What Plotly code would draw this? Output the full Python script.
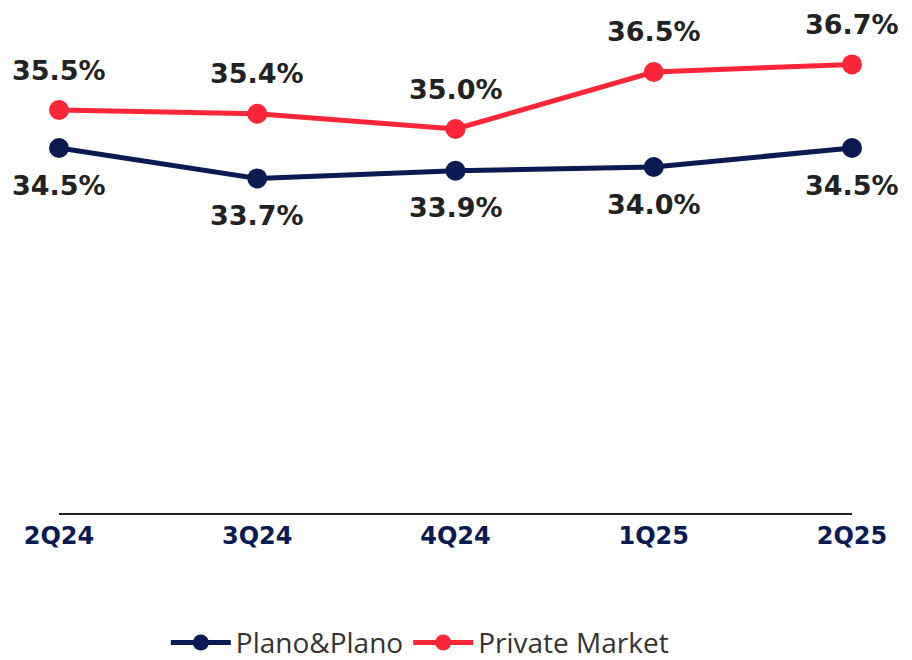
import plotly.graph_objects as go

quarters = ["2Q24", "3Q24", "4Q24", "1Q25", "2Q25"]
plano = [34.5, 33.7, 33.9, 34.0, 34.5]
private = [35.5, 35.4, 35.0, 36.5, 36.7]

NAVY = "#0B1A52"
RED = "#FF2638"
TXT = "#222222"

fig = go.Figure()
fig.add_trace(go.Scatter(
    x=quarters, y=plano, name="Plano&Plano", mode="lines+markers",
    line=dict(color=NAVY, width=5), marker=dict(color=NAVY, size=20),
    cliponaxis=False,
))
fig.add_trace(go.Scatter(
    x=quarters, y=private, name="Private Market", mode="lines+markers",
    line=dict(color=RED, width=5), marker=dict(color=RED, size=20),
    cliponaxis=False,
))

lab_font = dict(family="DejaVu Sans", size=27, color=TXT, weight="bold")
for q, v in zip(quarters, private):
    fig.add_annotation(x=q, y=v, text=f"{v:.1f}%", showarrow=False,
                       yshift=40, yanchor="middle", font=lab_font)
for q, v in zip(quarters, plano):
    fig.add_annotation(x=q, y=v, text=f"{v:.1f}%", showarrow=False,
                       yshift=-37, yanchor="middle", font=lab_font)

fig.update_layout(
    width=912, height=660,
    margin=dict(l=51, r=68, t=0, b=155),
    paper_bgcolor="white", plot_bgcolor="white",
    showlegend=True,
    legend=dict(orientation="h", x=0.455, xanchor="center", y=-0.257, yanchor="middle",
                font=dict(family="Open Sans", size=28, color="#333333"),
                itemwidth=60),
    xaxis=dict(type="category", range=[0, 4], showline=True, linecolor="#222222",
               linewidth=2, showgrid=False, zeroline=False, ticks="",
               tickfont=dict(family="DejaVu Sans", size=24, color=NAVY, weight="bold")),
    yaxis=dict(range=[24.895, 38.184], visible=False, showgrid=False, zeroline=False),
)

fig.write_html("out.html")
